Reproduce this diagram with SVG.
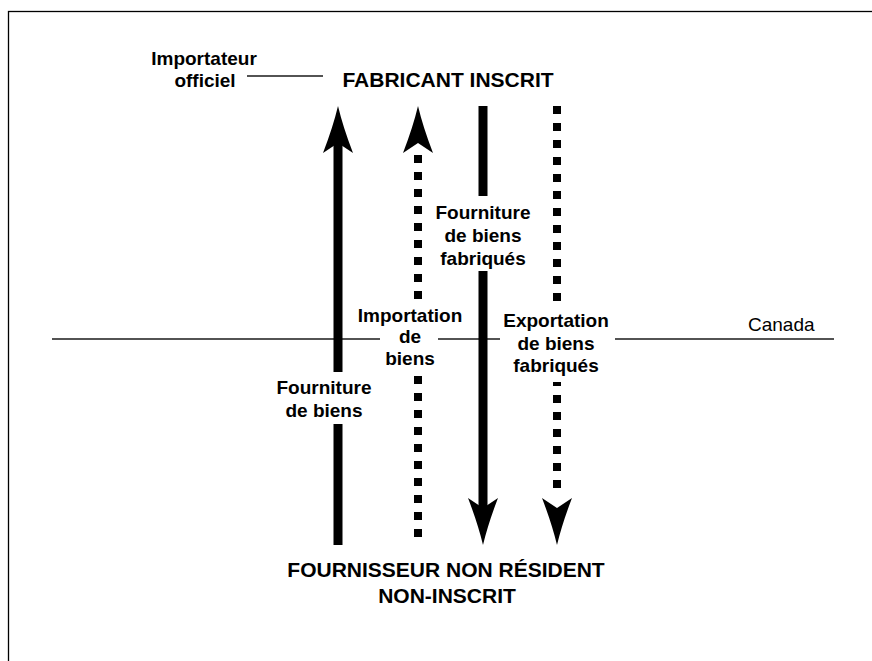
<svg xmlns="http://www.w3.org/2000/svg" width="872" height="661" viewBox="0 0 872 661">
<style>
.t{font-family:"Liberation Sans",Arial,sans-serif;font-weight:bold;fill:#000;text-anchor:middle}
.title{font-size:21px}
.lbl{font-size:19px}
.reg{font-family:"Liberation Sans",Arial,sans-serif;font-size:19px;fill:#000}
.solid{stroke:#000;stroke-width:9;fill:none}
.dots{stroke:#000;stroke-width:8;fill:none;stroke-dasharray:8 9}
.thin{stroke:#1a1a1a;stroke-width:1.3;fill:none}
.bg{fill:#fff}
.head{fill:#000}
</style>
<rect x="8.5" y="11.5" width="900" height="700" fill="#fff" stroke="#000" stroke-width="1.3"/>

<g id="canada-border">
<line class="thin" x1="52" y1="339" x2="834" y2="339"/>
<text class="reg" x="748" y="331">Canada</text>
</g>

<g id="connectors">
<line class="solid" x1="338" y1="140" x2="338" y2="545"/>
<path class="head" d="M338,106 Q343,127 353,153 L338,143 L323,153 Q333,127 338,106 Z"/>
<line class="dots" x1="418" y1="155" x2="418" y2="540"/>
<path class="head" d="M418,106 Q423,127 433,153 L418,143 L403,153 Q413,127 418,106 Z"/>
<line class="solid" x1="483" y1="106" x2="483" y2="510"/>
<path class="head" d="M483,545 Q478,524 468,498 L483,508 L498,498 Q488,524 483,545 Z"/>
<line class="dots" x1="557" y1="106" x2="557" y2="489"/>
<path class="head" d="M557,545 Q552,524 542,498 L557,508 L572,498 Q562,524 557,545 Z"/>
</g>

<g id="label-fourniture-fabriques">
<rect class="bg" x="430" y="196" width="106" height="75"/>
<text class="t lbl" x="483" y="219">Fourniture</text>
<text class="t lbl" x="483" y="242">de biens</text>
<text class="t lbl" x="483" y="265">fabriqués</text>
</g>

<g id="label-importation">
<rect class="bg" x="354" y="299" width="112" height="27"/>
<rect class="bg" x="380" y="326" width="58" height="50"/>
<text class="t lbl" x="410" y="322">Importation</text>
<text class="t lbl" x="410" y="343">de</text>
<text class="t lbl" x="410" y="365">biens</text>
</g>

<g id="label-exportation">
<rect class="bg" x="500" y="302" width="115" height="80"/>
<text class="t lbl" x="556" y="327">Exportation</text>
<text class="t lbl" x="556" y="350">de biens</text>
<text class="t lbl" x="556" y="372">fabriqués</text>
</g>

<g id="label-fourniture">
<rect class="bg" x="280" y="372" width="90" height="52"/>
<text class="t lbl" x="324" y="394">Fourniture</text>
<text class="t lbl" x="324" y="417">de biens</text>
</g>

<g id="node-fabricant">
<text class="t title" x="448" y="87">FABRICANT INSCRIT</text>
</g>

<g id="node-importateur">
<text class="t lbl" x="204" y="65">Importateur</text>
<text class="t lbl" x="205" y="87">officiel</text>
<line class="thin" x1="247" y1="76" x2="323" y2="76"/>
</g>

<g id="node-fournisseur">
<text class="t title" x="446" y="577">FOURNISSEUR NON RÉSIDENT</text>
<text class="t title" x="447" y="603">NON-INSCRIT</text>
</g>
</svg>
